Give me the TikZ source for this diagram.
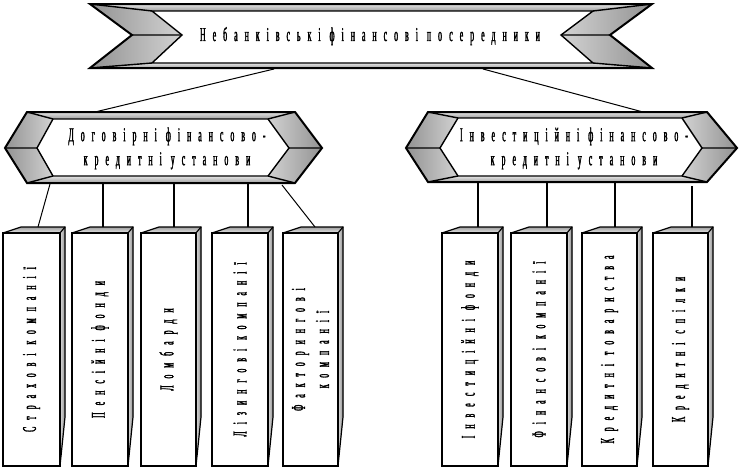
\documentclass[tikz,border=0pt]{standalone}
\usepackage{fontspec}
\newfontfamily\nf[FakeStretch=0.4,LetterSpace=36,FakeBold=1.5]{Liberation Serif}
\tikzset{
  lbl/.style={font=\nf\fontsize{19.5}{24}\selectfont, inner sep=0pt, align=center},
  outerln/.style={line width=2pt, draw=black},
  innerln/.style={line width=1.4pt, draw=black},
  thinln/.style={line width=1.2pt, draw=black},
  conn/.style={line width=1pt, draw=black},
  connthick/.style={line width=2pt, draw=black},
  bandshade/.style={top color=gray!20, bottom color=gray!75},
  bevelL/.style={left color=gray!85, right color=gray!35},
  bevelR/.style={left color=gray!35, right color=gray!85},
  topface/.style={top color=gray!75, bottom color=gray!20},
  sideface/.style={left color=gray!30, right color=gray!85},
  face/.style={draw=black, line width=2pt, fill=white, inner sep=0pt, outer sep=0pt},
}
\newcommand\bevelfill[1]{%
  \fill[bandshade] (#1A) -- (#1B) -- (#1b) -- (#1a) -- cycle;
  \fill[bandshade] (#1e) -- (#1d) -- (#1D) -- (#1E) -- cycle;
  \fill[bevelL] (#1A) -- (#1a) -- (#1f) -- (#1e) -- (#1E) -- (#1F) -- cycle;
  \fill[bevelR] (#1B) -- (#1C) -- (#1D) -- (#1d) -- (#1c) -- (#1b) -- cycle;
  \fill[white] (#1a) -- (#1b) -- (#1c) -- (#1d) -- (#1e) -- (#1f) -- cycle;
  \draw[innerln] (#1a) -- (#1b) -- (#1c) -- (#1d) -- (#1e) -- (#1f) -- cycle;
  \draw[innerln] (#1A) -- (#1a) (#1B) -- (#1b) (#1D) -- (#1d) (#1E) -- (#1e) (#1F) -- (#1f) (#1C) -- (#1c);
  \draw[outerln] (#1A) -- (#1B) -- (#1C) -- (#1D) -- (#1E) -- (#1F) -- cycle;
}
\newcommand\tdbox[4]{%
  \fill[topface] (#2,233) -- (#2+18,227) -- (#3+5,227) -- (#3,233) -- cycle;
  \fill[sideface] (#3,233) -- (#3+5,227) -- (#3+5,417) -- (#3,466) -- cycle;
  \draw[thinln] (#2,233) -- (#2+18,227) -- (#3+5,227) -- (#3+5,417) -- (#3,466);
  \draw[thinln] (#3,233) -- (#3+5,227);
  \node[face, minimum width=#3-#2, minimum height=233, anchor=north west] (#1) at (#2,233) {};
  \node[lbl, rotate=90] (#1t) at (#1.center) {#4};
}
\begin{document}
\begin{tikzpicture}[x=1pt,y=-1pt]
\fill[white] (0,0) rectangle (740,471);
\useasboundingbox (0,0) rectangle (740,471);
% banner
\coordinate (tA) at (90,4);   \coordinate (tB) at (652,4);
\coordinate (tC) at (610,35); \coordinate (tD) at (652,68);
\coordinate (tE) at (90,68);  \coordinate (tF) at (132,35);
\coordinate (ta) at (152,11); \coordinate (tb) at (593,11);
\coordinate (tc) at (561,35); \coordinate (td) at (593,63);
\coordinate (te) at (152,63); \coordinate (tf) at (182,35);
\bevelfill{t}
\node[lbl, anchor=base] (banner) at (370,41) {Небанківські фінансові посередники};
% left hexagon
\coordinate (lA) at (27,112);  \coordinate (lB) at (295,112);
\coordinate (lC) at (322,148); \coordinate (lD) at (295,183);
\coordinate (lE) at (27,183);  \coordinate (lF) at (5,148);
\coordinate (la) at (53,119);  \coordinate (lb) at (268,119);
\coordinate (lc) at (289,148); \coordinate (ld) at (268,176);
\coordinate (le) at (53,176);  \coordinate (lf) at (37,148);
\bevelfill{l}
\node[lbl] (hexL) at (167,148.5) {Договірні фінансово-\\кредитні установи};
% right hexagon
\coordinate (rA) at (428,112); \coordinate (rB) at (707,112);
\coordinate (rC) at (737,148); \coordinate (rD) at (707,182);
\coordinate (rE) at (428,182); \coordinate (rF) at (406,148);
\coordinate (ra) at (458,118); \coordinate (rb) at (682,118);
\coordinate (rc) at (702,148); \coordinate (rd) at (682,176);
\coordinate (re) at (458,176); \coordinate (rf) at (440,148);
\bevelfill{r}
\node[lbl] (hexR) at (574,148.5) {Інвестиційні фінансово-\\кредитні установи};
% boxes
\tdbox{b1}{3}{60}{Страхові компанії}
\tdbox{b2}{72}{128}{Пенсійні фонди}
\tdbox{b3}{141}{196}{Ломбарди}
\tdbox{b4}{212}{268}{Лізингові компанії}
\tdbox{b5}{283}{338}{Факторингові\\компанії}
\tdbox{b6}{442}{498}{Інвестиційні фонди}
\tdbox{b7}{511}{567}{Фінансові компанії}
\tdbox{b8}{582}{637}{Кредитні товариства}
\tdbox{b9}{653}{708}{Кредитні спілки}
% connector ends
\coordinate (tL) at (274,69);  \coordinate (hLt) at (95,112);
\coordinate (tR) at (483,69);  \coordinate (hRt) at (643,112);
\coordinate (h1) at (50,184);  \coordinate (k1) at (38,227);
\coordinate (h2) at (103,184); \coordinate (k2) at (103,227);
\coordinate (h3) at (174,184); \coordinate (k3) at (174,227);
\coordinate (h4) at (248,184); \coordinate (k4) at (248,227);
\coordinate (h5) at (282,185); \coordinate (k5) at (315,227);
\coordinate (h6) at (478,183); \coordinate (k6) at (478,227);
\coordinate (h7) at (547,183); \coordinate (k7) at (547,227);
\coordinate (h8) at (615,183); \coordinate (k8) at (615,227);
\coordinate (h9) at (692,186); \coordinate (k9) at (692,227);
\draw[conn] (tL) -- (hLt);
\draw[conn] (tR) -- (hRt);
\draw[conn] (h1) -- (k1);
\draw[connthick] (h2) -- (k2);
\draw[connthick] (h3) -- (k3);
\draw[connthick] (h4) -- (k4);
\draw[conn] (h5) -- (k5);
\draw[connthick] (h6) -- (k6);
\draw[connthick] (h7) -- (k7);
\draw[connthick] (h8) -- (k8);
\draw[connthick] (h9) -- (k9);
\end{tikzpicture}
\end{document}
